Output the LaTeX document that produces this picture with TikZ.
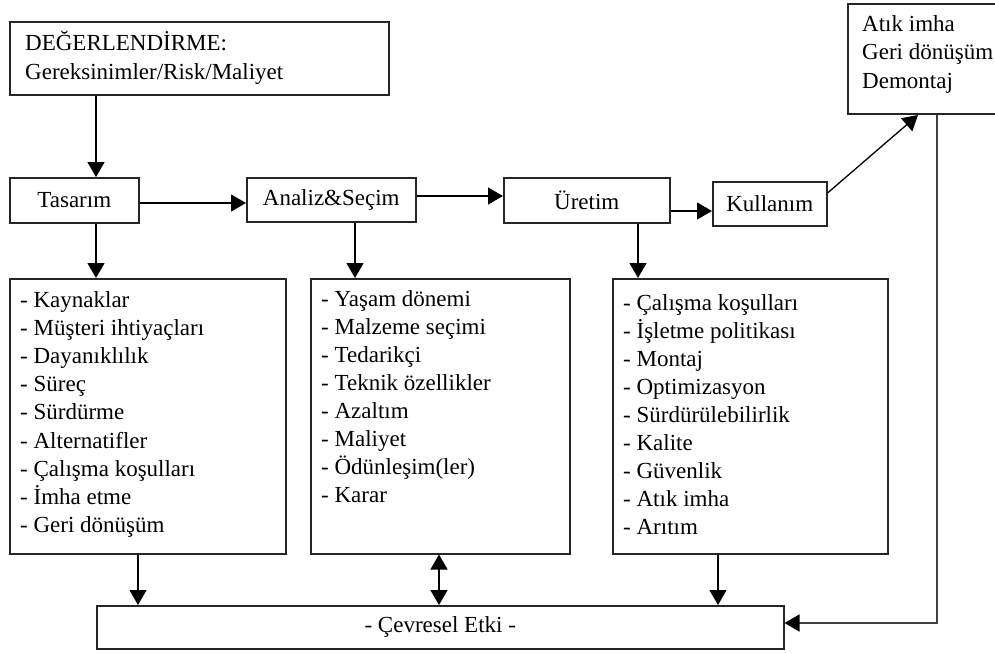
\documentclass[tikz,border=0pt]{standalone}
\usepackage{fontspec}
\setmainfont{Liberation Serif}
\usetikzlibrary{arrows.meta,calc}
\begin{document}
\begin{tikzpicture}[x=1pt,y=-1pt,
  box/.style={draw=black!85,line width=1.5pt,rectangle,inner sep=0pt,anchor=north west,
    font=\fontsize{23}{28}\selectfont},
  txt/.style={inner sep=0pt,anchor=base west,font=\fontsize{23}{28}\selectfont},
  arr/.style={line width=1.3pt,-{Triangle[width=17pt,length=15pt,color=black,fill=black]}},
  darr/.style={line width=1.3pt,{Triangle[width=17pt,length=15pt]}-{Triangle[width=17pt,length=15pt]}}]
\useasboundingbox (0,0) rectangle (995,653);
\clip (0,0) rectangle (995,653);
% boxes
\node[box,minimum width=379pt,minimum height=73pt] (top) at (9,21) {};
\node[txt] (toptxt) at (25,50) {\parbox[t]{360pt}{\fontsize{23}{29}\selectfont DEĞERLENDİRME:\\Gereksinimler/Risk/Maliyet}};
\node[box,minimum width=129pt,minimum height=45pt] (tas) at (9,177) {Tasarım};
\node[box,minimum width=169pt,minimum height=44pt] (ana) at (246,177) {Analiz\&Seçim};
\node[box,minimum width=166pt,minimum height=45pt] (ure) at (503,177) {Üretim};
\node[box,minimum width=114pt,minimum height=44pt] (kul) at (712,181) {Kullanım};
\node[box,minimum width=160pt,minimum height=110pt] (atik) at (847,3) {};
\node[txt] (atiktxt) at (862,31) {\parbox[t]{150pt}{\fontsize{23}{28.5}\selectfont Atık imha\\Geri dönüşüm\\Demontaj}};
\node[box,minimum width=276pt,minimum height=275pt] (b1) at (9,278) {};
\node[txt] (b1txt) at (20,307) {\parbox[t]{260pt}{\fontsize{23}{28.2}\selectfont
- Kaynaklar\\- Müşteri ihtiyaçları\\- Dayanıklılık\\- Süreç\\- Sürdürme\\- Alternatifler\\- Çalışma koşulları\\- İmha etme\\- Geri dönüşüm}};
\node[box,minimum width=259pt,minimum height=275pt] (b2) at (310,278) {};
\node[txt] (b2txt) at (321,306) {\parbox[t]{240pt}{\fontsize{23}{28.1}\selectfont
- Yaşam dönemi\\- Malzeme seçimi\\- Tedarikçi\\- Teknik özellikler\\- Azaltım\\- Maliyet\\- Ödünleşim(ler)\\- Karar}};
\node[box,minimum width=275pt,minimum height=275pt] (b3) at (612,278) {};
\node[txt] (b3txt) at (623,310) {\parbox[t]{260pt}{\fontsize{23}{28.1}\selectfont
- Çalışma koşulları\\- İşletme politikası\\- Montaj\\- Optimizasyon\\- Sürdürülebilirlik\\- Kalite\\- Güvenlik\\- Atık imha\\- Arıtım}};
\node[box,minimum width=687pt,minimum height=43pt] (cev) at (96,605) {- Çevresel Etki -};
% helper coordinates
\coordinate (ax1) at (96,0);
\coordinate (ax2) at (355,0);
\coordinate (ax3) at (638,0);
\coordinate (bx1) at (138,0);
\coordinate (bx2) at (439,0);
\coordinate (bx3) at (718,0);
\coordinate (y1) at (0,203);
\coordinate (y2) at (0,196);
\coordinate (y3) at (0,211);
\coordinate (ky) at (0,193);
\coordinate (atin) at (918,115);
\coordinate (rx) at (937,0);
\coordinate (ry) at (0,623);
% connectors
\draw[arr] (top.south -| ax1) -- (tas.north -| ax1);
\draw[arr] (tas.east |- y1) -- (ana.west |- y1);
\draw[arr] (ana.east |- y2) -- (ure.west |- y2);
\draw[arr] (ure.east |- y3) -- (kul.west |- y3);
\draw[arr] (kul.east |- ky) -- (atin);
\draw[arr] (tas.south -| ax1) -- (b1.north -| ax1);
\draw[arr] (ana.south -| ax2) -- (b2.north -| ax2);
\draw[arr] (ure.south -| ax3) -- (b3.north -| ax3);
\draw[arr] (b1.south -| bx1) -- (cev.north -| bx1);
\draw[darr] (b2.south -| bx2) -- (cev.north -| bx2);
\draw[arr] (b3.south -| bx3) -- (cev.north -| bx3);
\draw[arr,line width=1.5pt,draw=black!75] (atik.south -| rx) -- (rx |- ry) -- (cev.east |- ry);
\end{tikzpicture}
\end{document}
